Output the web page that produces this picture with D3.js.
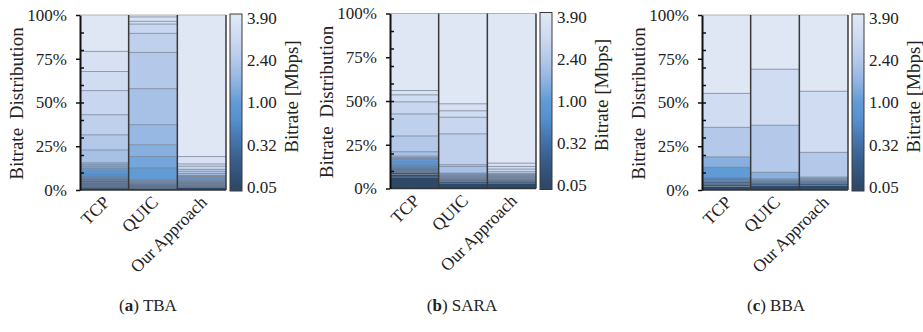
<!DOCTYPE html>
<html>
<head>
<meta charset="utf-8">
<script src="https://cdn.jsdelivr.net/npm/d3@7"></script>
<style>
  html, body { margin: 0; padding: 0; background: #fff; }
  svg { display: block; }
  text { font-family: "Liberation Serif", "Times New Roman", serif; fill: #222; }
</style>
</head>
<body>
<svg id="chart" width="923" height="332"></svg>
<script>
// Streaming methods compared in each panel
const methods = ["TCP", "QUIC", "Our Approach"];

// Bitrate ladder (Mbps), lowest to highest
const bitrateLevels = [0.05, 0.09, 0.13, 0.18, 0.25, 0.32, 0.40, 0.50, 0.60, 0.79,
                       1.00, 1.25, 1.55, 1.80, 2.13, 2.40, 2.70, 3.08, 3.30, 3.53, 3.90];
const colorbarTicks = [0.05, 0.32, 1.00, 2.40, 3.90];
const yTicks = [0, 25, 50, 75, 100];
const yMinorTicks = [10, 20, 30, 40, 50, 60, 70, 80, 90];

// Share of playback time (%) spent at each bitrate level, per ABR algorithm
const tbaTCP   = [1.2, 0.7, 0.8, 0.7, 0.8, 1.3, 1.2, 1.3, 1.4, 1.5, 1.5, 1.3, 1.0, 0.8, 7.4, 8.6, 11.5, 13.8, 10.9, 11.5, 20.8];
const tbaQUIC  = [1.0, 0.6, 0.6, 0.6, 0.6, 0.5, 0.5, 0.5, 0.5, 0.5, 6.7, 6.5, 6.7, 11.5, 20.6, 20.7, 10.9, 5.3, 1.6, 2.5, 1.1];
const tbaOurs  = [1.5, 0.6, 0.5, 0.5, 0.5, 0.5, 0.5, 0.4, 0.4, 1.0, 0.8, 0.5, 0.4, 0.3, 1.1, 1.2, 1.1, 1.8, 1.3, 4.2, 80.9];

const saraTCP  = [6.5, 1.5, 1.1, 0.7, 0.6, 0.8, 0.9, 0.9, 1.0, 1.3, 1.5, 0.4, 0.4, 0.9, 2.5, 9.0, 12.6, 6.9, 4.0, 2.5, 44.0];
const saraQUIC = [3.0, 1.0, 0.7, 0.5, 0.4, 0.4, 0.3, 0.3, 0.3, 0.4, 0.5, 0.5, 0.5, 0.0, 3.8, 1.0, 17.6, 9.5, 3.7, 4.0, 51.6];
const saraOurs = [3.0, 0.8, 0.6, 0.5, 0.4, 0.3, 0.3, 0.3, 0.3, 0.4, 0.3, 0.2, 0.2, 0.2, 0.3, 0.5, 1.0, 1.5, 1.5, 1.9, 85.5];

const bbaTCP   = [2.0, 1.0, 0.8, 0.9, 0.0, 0.6, 0.0, 1.7, 0.0, 0.0, 6.0, 0.0, 5.9, 0.0, 0.0, 16.9, 0.0, 0.0, 19.4, 0.0, 44.8];
const bbaQUIC  = [2.5, 0.0, 1.0, 0.7, 0.0, 0.0, 0.0, 1.1, 0.0, 0.0, 1.0, 0.0, 3.8, 0.0, 0.0, 26.9, 0.0, 0.0, 32.0, 0.0, 31.0];
const bbaOurs  = [2.6, 0.0, 1.0, 0.8, 0.0, 0.0, 0.0, 1.1, 0.0, 0.0, 1.0, 0.0, 0.9, 0.0, 0.0, 14.1, 0.0, 0.0, 34.9, 0.0, 43.6];

const panelTags = ["a", "b", "c"];
const panelNames = ["TBA", "SARA", "BBA"];
const panelData = [
  [tbaTCP, tbaQUIC, tbaOurs],
  [saraTCP, saraQUIC, saraOurs],
  [bbaTCP, bbaQUIC, bbaOurs]
];

// Layout
const panelLeft = [80, 390, 702];
const panelTop = [15, 13.5, 15];
const captionX = [148, 462, 776];
const plotW = 146, plotH = 175;

const svg = d3.select("#chart");

// Colour map: bitrate level -> position along ladder -> blue ramp
const nLev = bitrateLevels.length;
const levelPos = d3.scaleLinear()
  .domain(bitrateLevels)
  .range(bitrateLevels.map((_, i) => i / (nLev - 1)));
const ramp = d3.scaleLinear()
  .domain([0, 0.15, 0.3, 0.4, 0.5, 0.6, 0.7, 0.75, 0.85, 0.9, 0.95, 1])
  .range(["#2e4868", "#385d8a", "#4879b2", "#5690cf", "#609bd6", "#87afdf",
          "#a6c0e6", "#b4c9e9", "#c8d6ef", "#d0dcf1", "#d8e1f3", "#dfe6f4"])
  .interpolate(d3.interpolateRgb);
const color = v => ramp(levelPos(v));

// Vertical gradient for the colour bars
const defs = svg.append("defs");
const grad = defs.append("linearGradient").attr("id", "cbGrad")
  .attr("x1", 0).attr("y1", 1).attr("x2", 0).attr("y2", 0);
grad.append("stop").attr("offset", 0).attr("stop-color", color(bitrateLevels[0]));
bitrateLevels.forEach((v, i) => {
  grad.append("stop").attr("offset", (i + 0.5) / nLev).attr("stop-color", color(v));
});
grad.append("stop").attr("offset", 1).attr("stop-color", color(bitrateLevels[nLev - 1]));

panelData.forEach((bars, k) => {
  const g = svg.append("g").attr("transform", `translate(${panelLeft[k]},${panelTop[k]})`);
  const x = d3.scaleBand().domain(methods).range([0, plotW]);
  const y = d3.scaleLinear().domain([0, 100]).range([plotH, 0]);

  methods.forEach((m, j) => {
    const shares = bars[j];
    const cum = d3.cumsum(shares);
    const segs = shares.map((s, i) => ({ level: bitrateLevels[i], y0: cum[i] - s, y1: cum[i], s }))
      .filter(d => d.s > 0);
    const bg = g.append("g");
    // Each segment is filled from its top down to the baseline; lower levels painted over higher ones
    bg.selectAll("rect").data(segs.slice().reverse()).join("rect")
      .attr("x", x(m)).attr("width", x.bandwidth())
      .attr("y", d => y(d.y1))
      .attr("height", d => plotH - y(d.y1))
      .attr("fill", d => color(d.level));
    // Thin boundaries between bitrate levels
    bg.selectAll("line").data(segs.filter(d => d.y1 < 99.9)).join("line")
      .attr("x1", x(m)).attr("x2", x(m) + x.bandwidth())
      .attr("y1", d => y(d.y1)).attr("y2", d => y(d.y1))
      .attr("stroke", "#7c8798").attr("stroke-opacity", 0.8).attr("stroke-width", 1);
  });

  // Bar frame
  g.append("line").attr("x1", 0).attr("x2", plotW).attr("y1", y(100)).attr("y2", y(100))
    .attr("stroke", "#aeb3ba").attr("stroke-width", 1);
  g.append("line").attr("x1", 0).attr("x2", plotW).attr("y1", y(0)).attr("y2", y(0))
    .attr("stroke", "#333").attr("stroke-width", 1.5);
  methods.slice(1).concat([null]).forEach(m => {
    const xv = m === null ? plotW : x(m);
    g.append("line").attr("x1", xv).attr("x2", xv).attr("y1", y(100)).attr("y2", y(0))
      .attr("stroke", "#3a3a3a").attr("stroke-width", 1.5);
  });

  // Y axis with major (outer) and minor (inner) ticks
  const ax = g.append("g").call(
    d3.axisLeft(y).tickValues(yTicks).tickFormat(d => d + "%")
      .tickSize(4).tickSizeOuter(0).tickPadding(9));
  ax.select(".domain").attr("stroke", "#111").attr("stroke-width", 2);
  ax.selectAll(".tick line").attr("stroke", "#111").attr("stroke-width", 1.5);
  ax.selectAll(".tick text").attr("font-size", 17).attr("font-family", "Liberation Serif").attr("fill", "#222");

  const minor = g.append("g").call(d3.axisRight(y).tickValues(yMinorTicks).tickFormat("").tickSize(4));
  minor.select(".domain").remove();
  minor.selectAll(".tick line").attr("stroke", "#111").attr("stroke-width", 1.5);

  g.append("text")
    .attr("transform", `translate(-64,${plotH / 2 + 1}) rotate(-90)`)
    .attr("text-anchor", "middle").attr("dominant-baseline", "central")
    .attr("font-size", 19).attr("word-spacing", 4)
    .text("Bitrate Distribution");

  // Method labels, rotated
  g.selectAll("text.xl").data(methods).join("text").attr("class", "xl")
    .attr("transform", d => `translate(${x(d) + x.bandwidth() / 2 + 2},${plotH + 9}) rotate(-45)`)
    .attr("text-anchor", "end").attr("dy", "0.35em")
    .attr("font-size", 17.5)
    .text(d => d);

  // Colour bar
  const cbX = plotW + 4, cbW = 12;
  const cbY = d3.scaleLinear().domain([-0.5, nLev - 0.5]).range([plotH + 1, -1]);
  g.append("rect").attr("x", cbX).attr("y", cbY(nLev - 0.5)).attr("width", cbW)
    .attr("height", cbY(-0.5) - cbY(nLev - 0.5))
    .attr("fill", "url(#cbGrad)").attr("stroke", "#3a3a3a").attr("stroke-width", 1);
  g.selectAll("text.cb").data(colorbarTicks).join("text").attr("class", "cb")
    .attr("x", cbX + cbW + 5)
    .attr("y", d => cbY(bitrateLevels.indexOf(d)))
    .attr("dy", "0.35em").attr("font-size", 17)
    .text(d => d.toFixed(2));
  g.append("text")
    .attr("transform", `translate(${cbX + cbW + 49},${plotH / 2 - 6}) rotate(-90)`)
    .attr("text-anchor", "middle").attr("dominant-baseline", "central")
    .attr("font-size", 19)
    .text("Bitrate [Mbps]");

  // Sub-caption
  const cap = svg.append("text").attr("x", captionX[k]).attr("y", 311)
    .attr("text-anchor", "middle").attr("font-size", 17);
  cap.append("tspan").text("(");
  cap.append("tspan").attr("font-weight", "bold").text(panelTags[k]);
  cap.append("tspan").text(") " + panelNames[k]);
});
</script>
</body>
</html>
